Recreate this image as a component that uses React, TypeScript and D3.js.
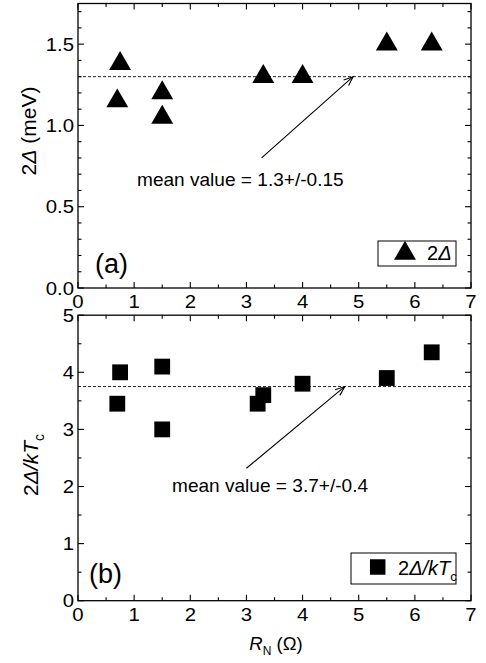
import React from 'react';
import * as d3 from 'd3';

// panel (a): gap values vs normal-state resistance
const gapR = [0.7, 0.75, 1.5, 1.5, 3.3, 4.0, 5.5, 6.3];
const gapVal = [1.15, 1.38, 1.2, 1.05, 1.3, 1.3, 1.5, 1.5];
const gapMean = 1.3;
// panel (b): 2Δ/kTc vs normal-state resistance
const ratioR = [0.7, 0.75, 1.5, 1.5, 3.2, 3.3, 4.0, 5.5, 6.3];
const ratioVal = [3.45, 4.0, 4.1, 3.0, 3.45, 3.6, 3.8, 3.9, 4.35];
const ratioMean = 3.75;

const xTicks = [0, 1, 2, 3, 4, 5, 6, 7];
const gapTicks = [0, 0.5, 1.0, 1.5];
const ratioTicks = [0, 1, 2, 3, 4, 5];

// annotation arrows in data units [from, to]
const gapArrow = [[3.27, 0.8], [4.9, 1.3]];
const ratioArrow = [[3.0, 2.32], [4.75, 3.75]];

const FONT = '"Liberation Sans", Arial, Helvetica, sans-serif';

const x = d3.scaleLinear().domain([0, 7]).range([78, 471]);
const yA = d3.scaleLinear().domain([0, 1.75]).range([288, 3.5]);
const yB = d3.scaleLinear().domain([0, 5]).range([600.7, 315.2]);

const Txt = ({ x, y, size, sx = 1, anchor = 'start', children }: any) => (
  <text
    transform={`translate(${x},${y}) scale(${sx},1)`}
    textAnchor={anchor}
    fontSize={size}
  >
    {children}
  </text>
);

const Arrow = ({ from, to }: any) => {
  const ang = Math.atan2(to[1] - from[1], to[0] - from[0]);
  const len = 10;
  const a1 = ang + Math.PI - 0.38;
  const a2 = ang + Math.PI + 0.38;
  return (
    <g stroke="#000" strokeWidth={1.1} fill="none">
      <line x1={from[0]} y1={from[1]} x2={to[0]} y2={to[1]} />
      <path
        d={`M${to[0] + len * Math.cos(a1)},${to[1] + len * Math.sin(a1)}L${to[0]},${to[1]}L${to[0] + len * Math.cos(a2)},${to[1] + len * Math.sin(a2)}`}
      />
    </g>
  );
};

const Panel = ({ y, majors, minorStep, fmt, xs, ys, symbol, symSize, mean, arrow }: any) => {
  const [y0, y1] = y.range();
  const [d0, d1] = y.domain();
  const xMinor = d3.range(0, 7.001, 0.5).filter((v: number) => Math.abs(v - Math.round(v)) > 1e-6);
  const yMinor = d3
    .range(d0, d1 + 1e-6, minorStep)
    .filter((v: number) => !majors.some((m: number) => Math.abs(m - v) < 1e-6));
  const sym = d3.symbol().type(symbol).size(symSize)();
  const from = [x(arrow[0][0]), y(arrow[0][1])];
  const to = [x(arrow[1][0]), y(arrow[1][1])];
  return (
    <g>
      <line
        x1={x(0)} x2={x(7)} y1={y(mean)} y2={y(mean)}
        stroke="#222" strokeWidth={1} strokeDasharray="3,2"
      />
      <Arrow from={from} to={to} />
      {xs.map((v: number, i: number) => (
        <path key={i} d={sym!} transform={`translate(${x(v)},${y(ys[i])})`} fill="#000" />
      ))}
      <g stroke="#000" strokeWidth={1.1}>
        {xTicks.map((t) => (
          <g key={'xm' + t}>
            <line x1={x(t)} x2={x(t)} y1={y0} y2={y0 - 6} />
            <line x1={x(t)} x2={x(t)} y1={y1} y2={y1 + 6} />
          </g>
        ))}
        {xMinor.map((t: number) => (
          <g key={'xn' + t}>
            <line x1={x(t)} x2={x(t)} y1={y0} y2={y0 - 3.5} />
            <line x1={x(t)} x2={x(t)} y1={y1} y2={y1 + 3.5} />
          </g>
        ))}
        {majors.map((t: number) => (
          <g key={'ym' + t}>
            <line x1={x(0)} x2={x(0) + 6} y1={y(t)} y2={y(t)} />
            <line x1={x(7)} x2={x(7) - 6} y1={y(t)} y2={y(t)} />
          </g>
        ))}
        {yMinor.map((t: number) => (
          <g key={'yn' + t}>
            <line x1={x(0)} x2={x(0) + 3.5} y1={y(t)} y2={y(t)} />
            <line x1={x(7)} x2={x(7) - 3.5} y1={y(t)} y2={y(t)} />
          </g>
        ))}
      </g>
      <rect
        x={x(0)} y={y1} width={x(7) - x(0)} height={y0 - y1}
        fill="none" stroke="#000" strokeWidth={1.3}
      />
      {majors.map((t: number) => (
        <Txt key={'yl' + t} x={x(0) - 4} y={y(t) + 6.6} size={18.5} sx={1.1} anchor="end">
          {fmt(t)}
        </Txt>
      ))}
      {xTicks.map((t) => (
        <Txt key={'xl' + t} x={x(t)} y={y0 + 20} size={18.5} sx={1.1} anchor="middle">
          {t}
        </Txt>
      ))}
    </g>
  );
};

export default function App() {
  const tri = d3.symbol().type(d3.symbolTriangle).size(208)();
  const sq = d3.symbol().type(d3.symbolSquare).size(240)();
  return (
    <svg
      width={486}
      height={663}
      style={{ position: 'absolute', left: 0, top: 0, background: '#fff' }}
      fontFamily={FONT}
    >
      <rect width={486} height={663} fill="#fff" />
      <Panel
        y={yA} majors={gapTicks} minorStep={0.1} fmt={d3.format('.1f')}
        xs={gapR} ys={gapVal} symbol={d3.symbolTriangle} symSize={208}
        mean={gapMean} arrow={gapArrow}
      />
      <Panel
        y={yB} majors={ratioTicks} minorStep={0.5} fmt={d3.format('d')}
        xs={ratioR} ys={ratioVal} symbol={d3.symbolSquare} symSize={250}
        mean={ratioMean} arrow={ratioArrow}
      />

      {/* annotations */}
      <Txt x={137} y={186} size={18} sx={1.06}>mean value = 1.3+/-0.15</Txt>
      <Txt x={172} y={492} size={18} sx={1.06}>mean value = 3.7+/-0.4</Txt>

      {/* panel labels */}
      <Txt x={95} y={273} size={27}>(a)</Txt>
      <Txt x={89} y={583} size={27}>(b)</Txt>

      {/* legends */}
      <rect x={378} y={241} width={78} height={25} fill="#fff" stroke="#000" strokeWidth={1} />
      <path d={tri!} transform="translate(405,253.5)" fill="#000" />
      <text x={427} y={259.5} fontSize={20}>
        2<tspan fontStyle="italic">Δ</tspan>
      </text>
      <rect x={351} y={553} width={105} height={31} fill="#fff" stroke="#000" strokeWidth={1} />
      <path d={sq!} transform="translate(377.7,567)" fill="#000" />
      <text x={398} y={575} fontSize={20}>
        2<tspan fontStyle="italic">Δ/kT</tspan>
        <tspan fontSize={13} dy={6}>c</tspan>
      </text>

      {/* axis titles */}
      <text transform="translate(36,131) rotate(-90)" textAnchor="middle" fontSize={21}>
        2<tspan fontStyle="italic">Δ</tspan> (meV)
      </text>
      <text transform="translate(38,465) rotate(-90)" textAnchor="middle" fontSize={21}>
        2<tspan fontStyle="italic">Δ/kT</tspan>
        <tspan fontSize={14} dy={6}>c</tspan>
      </text>
      <text x={276} y={650} textAnchor="middle" fontSize={18.5}>
        <tspan fontStyle="italic">R</tspan>
        <tspan fontSize={12} dy={5}>N</tspan>
        <tspan dy={-5}> (Ω)</tspan>
      </text>
    </svg>
  );
}
